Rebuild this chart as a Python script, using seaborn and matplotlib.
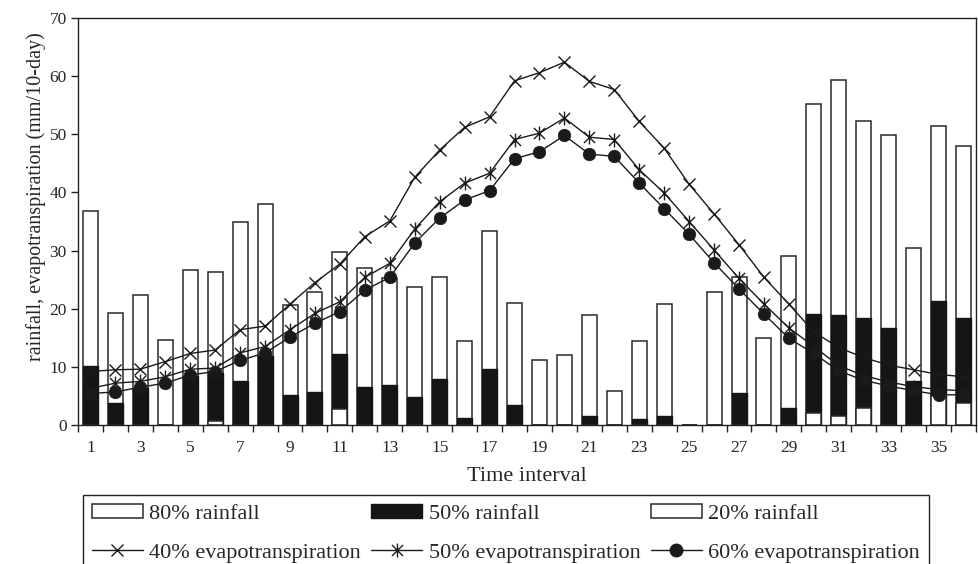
import numpy as np
import matplotlib
matplotlib.use("Agg")
import matplotlib.pyplot as plt
from matplotlib.path import Path
from matplotlib.patches import Patch
from matplotlib.lines import Line2D
import seaborn as sns

intervals = list(range(1, 37))
rain20 = [36.8, 19.2, 22.4, 14.6, 26.7, 26.4, 35.0, 38.0, 20.7, 22.8, 29.7, 27.0,
          25.2, 23.7, 25.4, 14.5, 33.3, 20.9, 11.1, 12.1, 19.0, 5.9, 14.5, 20.8,
          0.0, 22.9, 25.4, 14.9, 29.1, 55.2, 59.4, 52.2, 49.8, 30.4, 51.5, 48.0]
rain50 = [10.2, 3.8, 6.3, 0.0, 8.5, 9.0, 7.5, 11.8, 5.2, 5.6, 12.2, 6.5,
          6.9, 4.9, 7.9, 1.15, 9.6, 3.4, 0.0, 0.0, 1.55, 0.0, 1.0, 1.6,
          0.0, 0.0, 5.5, 0.0, 3.0, 19.1, 18.9, 18.4, 16.7, 7.5, 21.3, 18.4]
rain80 = [0, 0, 0, 0, 0, 0.7, 0, 0, 0, 0, 2.7, 0,
          0, 0, 0, 0, 0, 0, 0, 0, 0, 0, 0, 0,
          0, 0, 0, 0, 0, 2.1, 1.5, 3.0, 0, 0, 5.0, 3.7]
et40 = [9.2, 9.5, 9.6, 10.9, 12.3, 12.9, 16.4, 17.0, 20.8, 24.5, 27.7, 32.4,
        35.1, 42.6, 47.3, 51.2, 53.0, 59.2, 60.6, 62.4, 59.1, 57.7, 52.2, 47.6,
        41.4, 36.3, 31.0, 25.4, 20.8, 16.0, 13.3, 11.6, 10.3, 9.5, 8.7, 8.3]
et50 = [6.3, 7.2, 7.5, 8.3, 9.6, 9.8, 12.4, 13.5, 16.4, 19.2, 21.2, 25.4,
        27.8, 33.7, 38.4, 41.6, 43.3, 49.1, 50.2, 52.8, 49.5, 49.1, 43.9, 39.9,
        35.0, 30.1, 25.2, 20.8, 16.7, 13.5, 10.2, 8.5, 7.4, 6.6, 6.1, 5.9]
et60 = [5.4, 5.7, 6.5, 7.2, 8.6, 9.2, 11.1, 12.4, 15.1, 17.5, 19.5, 23.2,
        25.4, 31.3, 35.6, 38.7, 40.3, 45.8, 47.0, 49.8, 46.6, 46.2, 41.6, 37.2,
        32.8, 27.9, 23.4, 19.1, 14.9, 12.3, 9.3, 7.7, 6.7, 5.9, 5.2, 5.2]
odd_labels = [str(i) for i in range(1, 37, 2)]

sns.set_theme(style="ticks")
plt.rcParams['font.family'] = ['Liberation Serif', 'DejaVu Serif']

W, H = 979, 564
fig = plt.figure(figsize=(W / 100, H / 100), dpi=100)
ax = fig.add_axes([78 / W, 1 - 425 / H, (976 - 78) / W, (425 - 18) / H])

edge = '#2a2a2a'
black = '#151515'
bar_kw = dict(native_scale=True, width=0.6, errorbar=None, saturation=1, ax=ax)
sns.barplot(x=intervals, y=rain20, color='white', edgecolor=edge, linewidth=1.1, **bar_kw)
sns.barplot(x=intervals, y=rain50, color=black, edgecolor=black, linewidth=1.0, **bar_kw)
sns.barplot(x=intervals, y=rain80, color='white', edgecolor=edge, linewidth=1.1, **bar_kw)

star = Path([(-1, -1), (1, 1), (-1, 1), (1, -1), (0, -1.25), (0, 1.25)],
            [Path.MOVETO, Path.LINETO, Path.MOVETO, Path.LINETO, Path.MOVETO, Path.LINETO])
lc = '#1a1a1a'
line_kw = dict(color=lc, linewidth=1.0, ax=ax, zorder=5)
sns.lineplot(x=intervals, y=et40, marker='x', markersize=9, markeredgewidth=1.0,
             markeredgecolor=lc, **line_kw)
sns.lineplot(x=intervals, y=et50, marker=star, markersize=10, markeredgewidth=1.0,
             markeredgecolor=lc, markerfacecolor='none', **line_kw)
sns.lineplot(x=intervals, y=et60, marker='o', markersize=9, markeredgewidth=0.5,
             markeredgecolor=lc, markerfacecolor=lc, **line_kw)

ax.set_xlim(0.5, 36.5)
ax.set_ylim(0, 70)
ax.set_yticks(np.arange(0, 71, 10))
ax.set_xticks(np.arange(0.5, 37, 1))
ax.set_xticklabels([])
ax.set_xticks(np.arange(1, 37, 2), minor=True)
ax.set_xticklabels(odd_labels, minor=True)
ax.tick_params(axis='x', which='minor', length=0, pad=11, labelsize=12.5)
ax.tick_params(axis='x', which='major', length=5, width=1, direction='out', color='#222')
ax.tick_params(axis='y', length=5, width=1, direction='out', color='#222', pad=3, labelsize=12.5)
for s in ax.spines.values():
    s.set_color('#222')
    s.set_linewidth(1.0)
    s.set_visible(True)

ax.set_xlabel('Time interval', fontsize=16, labelpad=8)
ax.set_ylabel('rainfall, evapotranspiration (mm/10-day)', fontsize=14.5)
ax.yaxis.set_label_coords(-0.036, 0.56)

handles = [
    Patch(facecolor='white', edgecolor=edge, linewidth=1.1),
    Line2D([], [], color=lc, lw=1.0, marker='x', markersize=9, markeredgewidth=1.0),
    Patch(facecolor=black, edgecolor=black, linewidth=1.0),
    Line2D([], [], color=lc, lw=1.0, marker=star, markersize=10, markeredgewidth=1.0, markerfacecolor='none'),
    Patch(facecolor='white', edgecolor=edge, linewidth=1.1),
    Line2D([], [], color=lc, lw=1.0, marker='o', markersize=9, markerfacecolor=lc),
]
labels = ['80% rainfall', '40% evapotranspiration', '50% rainfall',
          '50% evapotranspiration', '20% rainfall', '60% evapotranspiration']
leg = fig.legend(handles, labels, ncol=3, loc='upper left',
                 bbox_to_anchor=(82.7 / W, 1 - 495 / H), fontsize=16,
                 frameon=True, fancybox=False, edgecolor='#222', framealpha=1,
                 handlelength=2.3, handleheight=0.6, handletextpad=0.3,
                 columnspacing=0.45, borderpad=0.4, labelspacing=0.85,
                 borderaxespad=0)
leg.get_frame().set_linewidth(1.0)

fig.savefig('out.png', dpi=100)
